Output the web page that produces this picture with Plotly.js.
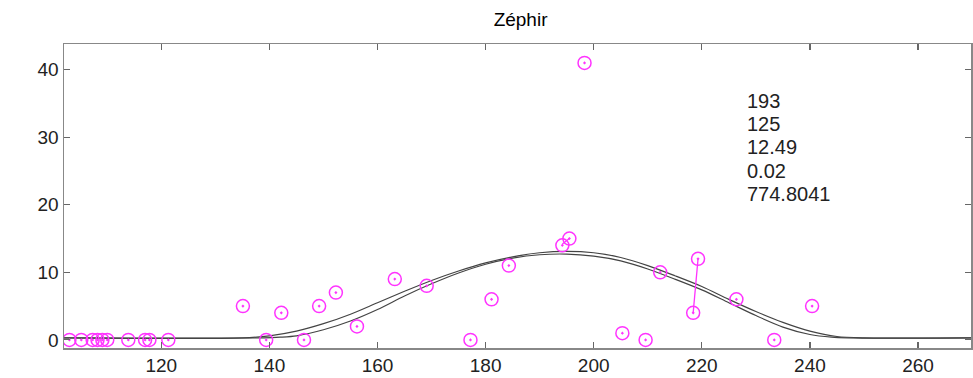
<!DOCTYPE html>
<html>
<head>
<meta charset="utf-8">
<script src="https://cdn.plot.ly/plotly-3.0.1.min.js"></script>
<style>
  html, body { margin: 0; padding: 0; background: #fff; }
  #chart { width: 973px; height: 378px; }
</style>
</head>
<body>
<div id="chart"></div>
<script>
// Observed points (magenta circles)
const pointX = [103.0, 105.2, 107.3, 108.2, 109.1, 110.0, 113.9, 117.0, 117.8, 121.3,
                135.1, 139.4, 142.2, 146.4, 149.2, 152.3, 156.2, 163.2, 169.1, 177.2,
                181.1, 184.3, 194.2, 195.5, 198.3, 205.3, 209.6, 212.3, 218.4, 219.3,
                226.4, 233.4, 240.4];
const pointY = [0, 0, 0, 0, 0, 0, 0, 0, 0, 0,
                5, 0, 4, 0, 5, 7, 2, 9, 8, 0,
                6, 11, 14, 15, 41, 1, 0, 10, 4, 12,
                6, 0, 5];

// Magenta connecting segments (pairs separated by null)
const linkX = [194.2, 195.5, null, 218.4, 219.3];
const linkY = [14.2, 15, null, 4, 12];

// Fitted curve 1 (upper / wider)
const fit1X = [102, 135, 140, 145, 150, 155, 160, 165, 170, 175, 180, 185, 190, 195,
               200, 205, 210, 215, 220, 225, 230, 235, 240, 245, 250, 270];
const fit1Y = [0.3, 0.3, 0.6, 1.3, 2.4, 3.8, 5.5, 7.2, 8.8, 10.2, 11.4, 12.3, 12.9, 13.1,
               12.9, 12.2, 11.0, 9.5, 7.9, 6.0, 4.2, 2.6, 1.3, 0.5, 0.3, 0.3];

// Fitted curve 2 (lower / narrower)
const fit2X = [102, 139, 142, 145, 150, 155, 160, 165, 170, 175, 180, 185, 190, 195,
               200, 205, 210, 215, 220, 225, 230, 235, 240, 244, 247, 270];
const fit2Y = [0.3, 0.3, 0.4, 0.6, 1.5, 2.8, 4.5, 6.5, 8.3, 9.9, 11.2, 12.1, 12.6, 12.7,
               12.4, 11.7, 10.5, 9.0, 7.4, 5.5, 3.6, 1.9, 0.8, 0.4, 0.3, 0.3];

// Text block
const statLines = ["193", "125", "12.49", "0.02", "774.8041"];

const xTicks = [120, 140, 160, 180, 200, 220, 240, 260];
const yTicks = [0, 10, 20, 30, 40];

const FONT = "Liberation Sans, Arial, sans-serif";
const MAGENTA = "#ff33ff";
const CURVE = "#444444";

const traces = [
  { x: fit1X, y: fit1Y, type: "scatter", mode: "lines",
    line: { color: CURVE, width: 1.2, shape: "spline", smoothing: 0.8 }, hoverinfo: "skip" },
  { x: fit2X, y: fit2Y, type: "scatter", mode: "lines",
    line: { color: CURVE, width: 1.2, shape: "spline", smoothing: 0.8 }, hoverinfo: "skip" },
  { x: linkX, y: linkY, type: "scatter", mode: "lines",
    line: { color: MAGENTA, width: 1.3 }, connectgaps: false },
  { x: pointX, y: pointY, type: "scatter", mode: "markers",
    marker: { symbol: "circle-open-dot", size: 13, color: MAGENTA, line: { width: 1.5, color: MAGENTA } } }
];

const annX = 227.9, annY0 = 35.4, annStep = 3.45;
const annotations = statLines.map((t, i) => ({
  text: t, xref: "x", yref: "y", x: annX, y: annY0 - i * annStep,
  xanchor: "left", yanchor: "middle", showarrow: false,
  font: { family: FONT, size: 20, color: "#222" }
}));

const axisCommon = {
  showline: true, linecolor: "#888", linewidth: 1.5, mirror: "ticks",
  ticks: "inside", ticklen: 6, tickcolor: "#666", tickwidth: 1.2,
  showgrid: false, zeroline: false,
  tickfont: { family: FONT, size: 19, color: "#222" }
};

const layout = {
  width: 973, height: 378,
  margin: { l: 64, r: 2, t: 44, b: 30 },
  paper_bgcolor: "#fff", plot_bgcolor: "#fff",
  showlegend: false,
  title: { text: "Zéphir", x: 0.535, xanchor: "center", y: 0.95, yanchor: "middle",
           font: { family: FONT, size: 19, color: "#000" } },
  xaxis: Object.assign({}, axisCommon, { range: [102, 269.8], tickvals: xTicks, ticktext: xTicks.map(String) }),
  yaxis: Object.assign({}, axisCommon, { range: [-1.2, 43.8], tickvals: yTicks, ticktext: yTicks.map(String) }),
  annotations: annotations
};

Plotly.newPlot("chart", traces, layout, { displayModeBar: false, staticPlot: true });
</script>
</body>
</html>
